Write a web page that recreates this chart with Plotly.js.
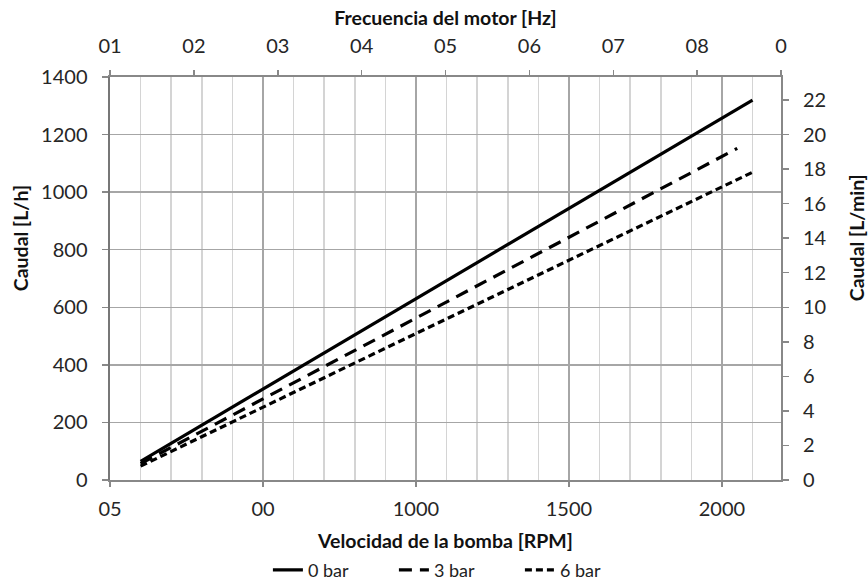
<!DOCTYPE html>
<html>
<head>
<meta charset="utf-8">
<script src="https://cdn.plot.ly/plotly-3.0.1.min.js"></script>
<style>html,body{margin:0;padding:0;background:#fff;}#chart{width:868px;height:586px;}</style>
</head>
<body>
<div id="chart"></div>
<script>
// Data
const rpm0 = [100, 1000, 2100];
const flow0 = [65, 630, 1320];      // 0 bar, L/h
const rpm3 = [100, 1000, 2050];
const flow3 = [57, 561, 1152];      // 3 bar, L/h
const rpm6 = [100, 1000, 2100];
const flow6 = [48, 509, 1069];      // 6 bar, L/h

const seriesNames = ['0 bar', '3 bar', '6 bar'];

const rpmTickVals = [0, 500, 1000, 1500, 2000];
const rpmTickText = ['05', '00', '1000', '1500', '2000'];
const hzTickVals = [0, 1, 2, 3, 4, 5, 6, 7, 8];
const hzTickText = ['01', '02', '03', '04', '05', '06', '07', '08', '0'];
const lhTickVals = [0, 200, 400, 600, 800, 1000, 1200, 1400];
const lminTickVals = [0, 2, 4, 6, 8, 10, 12, 14, 16, 18, 20, 22];

const FONT = 'Lato, "Open Sans", sans-serif';
const tickFont = {family: FONT, size: 20, color: '#262626'};
const titleFont = {family: FONT, size: 19.5, color: '#111', weight: 'bold'};

const traces = [
  {x: rpm0, y: flow0, name: seriesNames[0], mode: 'lines', line: {color: '#000', width: 3.2}},
  {x: rpm3, y: flow3, name: seriesNames[1], mode: 'lines', line: {color: '#000', width: 3.2, dash: '13px,8px'}},
  {x: rpm6, y: flow6, name: seriesNames[2], mode: 'lines', line: {color: '#000', width: 3.2, dash: '7px,4px'}},
  {x: [hzTickVals[0]], y: [lminTickVals[0]], xaxis: 'x2', yaxis: 'y2', mode: 'markers',
   marker: {opacity: 0}, showlegend: false, hoverinfo: 'skip'}
];

const layout = {
  width: 868, height: 586,
  margin: {l: 110, r: 87, t: 77, b: 106},
  paper_bgcolor: '#fff', plot_bgcolor: '#fff',
  font: {family: FONT, color: '#222'},
  showlegend: true,
  legend: {orientation: 'h', x: 0.517, xanchor: 'center', yref: 'container', y: 0.027, yanchor: 'middle',
           font: {family: FONT, size: 18, color: '#222'}, entrywidth: 81, entrywidthmode: 'pixels',
           tracegroupgap: 0},
  xaxis: {
    range: [0, 2193], tickvals: rpmTickVals, ticktext: rpmTickText,
    tickfont: tickFont, ticks: 'outside', ticklen: 5, tickcolor: '#888', tickwidth: 1.5,
    ticklabelstandoff: 5,
    showline: true, linecolor: '#888', linewidth: 2,
    showgrid: true, gridcolor: '#a6a6a6', gridwidth: 1.5,
    minor: {dtick: 100, showgrid: true, gridcolor: '#d4d4d4', gridwidth: 1.5},
    zeroline: false,
    title: {text: 'Velocidad de la bomba [RPM]', font: titleFont, standoff: 18}
  },
  xaxis2: {
    overlaying: 'x', side: 'top', anchor: 'y', range: [0, 8],
    tickvals: hzTickVals, ticktext: hzTickText, tickfont: tickFont,
    ticks: 'outside', ticklen: 5, tickcolor: '#888', tickwidth: 1.5, ticklabelstandoff: 9,
    showline: true, linecolor: '#888', linewidth: 2, showgrid: false, zeroline: false,
    title: {text: 'Frecuencia del motor [Hz]', font: titleFont, standoff: 2}
  },
  yaxis: {
    range: [0, 1400], tickvals: lhTickVals, tickfont: tickFont,
    ticks: 'outside', ticklen: 6, tickcolor: '#888', tickwidth: 1.5, ticklabelstandoff: 10,
    showline: true, linecolor: '#777', linewidth: 2.5,
    showgrid: true, gridcolor: '#a6a6a6', gridwidth: 1.5, zeroline: false
  },
  yaxis2: {
    overlaying: 'y', side: 'right', anchor: 'x', range: [0, 1400 / 60],
    tickvals: lminTickVals, tickfont: tickFont,
    ticks: 'outside', ticklen: 6, tickcolor: '#888', tickwidth: 1.5, ticklabelstandoff: 10,
    showline: true, linecolor: '#888', linewidth: 2, showgrid: false, zeroline: false
  },
  annotations: [
    {text: 'Caudal [L/h]', xref: 'paper', yref: 'paper', x: -0.1341, y: 0.6, textangle: -90,
     xanchor: 'center', yanchor: 'middle', showarrow: false, font: titleFont},
    {text: 'Caudal [L/min]', xref: 'paper', yref: 'paper', x: 1.1118, y: 0.6, textangle: -90,
     xanchor: 'center', yanchor: 'middle', showarrow: false, font: titleFont}
  ]
};

Plotly.newPlot('chart', traces, layout, {displayModeBar: false, staticPlot: true});
</script>
</body>
</html>
